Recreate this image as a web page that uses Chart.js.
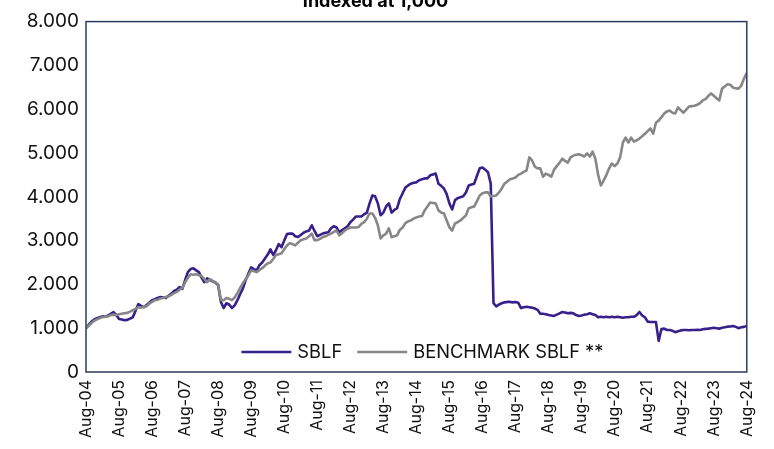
<!DOCTYPE html>
<html>
<head>
<meta charset="utf-8">
<script src="https://cdn.jsdelivr.net/npm/chart.js@4.4.1/dist/chart.umd.min.js"></script>
<style>
  html, body { margin: 0; padding: 0; background: #fff; overflow: hidden; }
  #wrap { position: absolute; left: 0; top: -10px; width: 774px; height: 459px; }
</style>
</head>
<body>
<div id="wrap"><canvas id="sblf-chart"></canvas></div>
<script>
// tick labels on the x axis, one per year (every 12 months)
var yearLabels = ['Aug-04', 'Aug-05', 'Aug-06', 'Aug-07', 'Aug-08', 'Aug-09', 'Aug-10',
    'Aug-11', 'Aug-12', 'Aug-13', 'Aug-14', 'Aug-15', 'Aug-16', 'Aug-17', 'Aug-18',
    'Aug-19', 'Aug-20', 'Aug-21', 'Aug-22', 'Aug-23', 'Aug-24'];

// monthly index values, Aug-04 .. Aug-24 (one row per year Aug..Jul)
var sblf = [
    1000, 1080, 1150, 1200, 1230, 1250, 1270, 1260, 1290, 1330, 1370, 1300,
    1210, 1200, 1180, 1190, 1220, 1250, 1400, 1550, 1510, 1480, 1530, 1580,
    1640, 1660, 1690, 1710, 1700, 1690, 1740, 1790, 1850, 1880, 1940, 1900,
    2100, 2280, 2350, 2370, 2320, 2280, 2150, 2050, 2140, 2100, 2070, 2040,
    1980, 1600, 1460, 1570, 1540, 1460, 1520, 1640, 1780, 1910, 2100, 2250,
    2390, 2350, 2320, 2440, 2500, 2590, 2680, 2800, 2670, 2780, 2920, 2850,
    3000, 3150, 3160, 3160, 3100, 3080, 3130, 3180, 3210, 3230, 3350, 3220,
    3100, 3130, 3160, 3180, 3190, 3280, 3330, 3300, 3190, 3240, 3280, 3330,
    3420, 3480, 3550, 3550, 3550, 3600, 3640, 3850, 4030, 4010, 3850, 3580,
    3640, 3780, 3850, 3640, 3700, 3740, 3950, 4080, 4210, 4260, 4300, 4320,
    4330, 4380, 4400, 4420, 4420, 4490, 4510, 4530, 4300, 4250, 4190, 4060,
    3850, 3710, 3920, 3970, 3990, 4010, 4100, 4260, 4280, 4300, 4480, 4650,
    4670, 4620, 4560, 4300, 1570, 1500, 1540, 1570, 1590, 1600, 1600, 1590,
    1600, 1580, 1460, 1480, 1490, 1480, 1470, 1450, 1420, 1330, 1330, 1320,
    1300, 1290, 1280, 1310, 1340, 1370, 1360, 1340, 1350, 1340, 1300, 1280,
    1290, 1310, 1320, 1340, 1320, 1300, 1250, 1260, 1250, 1260, 1250, 1260,
    1250, 1260, 1250, 1240, 1250, 1250, 1260, 1260, 1300, 1370, 1290, 1250,
    1150, 1140, 1140, 1140, 710, 980, 990, 960, 960, 940, 910, 930,
    950, 960, 960, 955, 960, 960, 965, 960, 975, 985, 990, 1000,
    1010, 1000, 990, 1010, 1020, 1035, 1040, 1050, 1030, 1000, 1020, 1030,
    1050
];

var benchmark = [
    1000, 1060, 1120, 1170, 1200, 1230, 1250, 1260, 1270, 1300, 1310, 1300,
    1320, 1330, 1340, 1350, 1380, 1410, 1440, 1480, 1470, 1490, 1500, 1560,
    1600, 1640, 1650, 1680, 1690, 1710, 1730, 1760, 1800, 1830, 1880, 1920,
    2050, 2150, 2230, 2220, 2230, 2210, 2190, 2120, 2050, 2120, 2080, 2050,
    2000, 1640, 1640, 1690, 1670, 1640, 1700, 1800, 1920, 2030, 2120, 2210,
    2320, 2300, 2280, 2330, 2370, 2430, 2480, 2500, 2580, 2670, 2690, 2710,
    2800, 2890, 2940, 2920, 2890, 2950, 3010, 3030, 3050, 3100, 3160, 3010,
    3010, 3040, 3080, 3100, 3130, 3160, 3200, 3230, 3120, 3170, 3230, 3270,
    3300, 3300, 3300, 3310, 3380, 3420, 3500, 3620, 3620, 3520, 3350, 3050,
    3120, 3160, 3280, 3080, 3100, 3120, 3250, 3300, 3400, 3440, 3460, 3500,
    3530, 3550, 3560, 3690, 3780, 3870, 3860, 3850, 3690, 3640, 3620, 3460,
    3300, 3230, 3390, 3420, 3460, 3520, 3580, 3740, 3760, 3780, 3900, 4030,
    4080, 4100, 4100, 4010, 4020, 4030, 4100, 4190, 4300, 4350, 4400, 4420,
    4440, 4500, 4530, 4570, 4600, 4900, 4830, 4690, 4650, 4650, 4460, 4530,
    4500, 4460, 4620, 4700, 4780, 4870, 4820, 4780, 4900, 4940, 4960, 4970,
    4950, 4920, 4990, 4920, 5030, 4870, 4500, 4260, 4370, 4500, 4650, 4760,
    4700, 4760, 4900, 5240, 5350, 5240, 5350, 5260, 5290, 5330, 5380, 5440,
    5500, 5560, 5440, 5690, 5740, 5820, 5900, 5950, 5970, 5920, 5900, 6040,
    5980, 5920, 5990, 6060, 6070, 6080, 6100, 6140, 6200, 6230, 6300, 6360,
    6310, 6250, 6200, 6470, 6520, 6570, 6560, 6490, 6480, 6470, 6540, 6700,
    6830
];

var seriesNames = ['SBLF', 'BENCHMARK SBLF **'];
var seriesColors = ['#37208a', '#878787'];

function toPoints(arr) {
    var pts = [];
    for (var i = 0; i < arr.length; i++) {
        pts.push({ x: i, y: arr[i] });
    }
    return pts;
}

// frame around the plot area
var frame = {
    id: 'frame',
    afterDatasetsDraw: function (chart) {
        var a = chart.chartArea, c = chart.ctx;
        c.save();
        c.strokeStyle = '#2b3a5e';
        c.lineWidth = 1.5;
        c.strokeRect(a.left, a.top, a.right - a.left, a.bottom - a.top);
        c.restore();
    }
};

// legend sitting inside the plot, bottom centre
var innerLegend = {
    id: 'innerLegend',
    afterDraw: function (chart) {
        var a = chart.chartArea, c = chart.ctx;
        var boxW = 50, gap = 6, spacing = 15;
        c.save();
        c.font = '18.3px Inter';
        c.textBaseline = 'middle';
        var ds = chart.data.datasets;
        var total = 0;
        for (var i = 0; i < ds.length; i++) {
            total += boxW + gap + c.measureText(ds[i].label).width;
            if (i > 0) total += spacing;
        }
        var x = (a.left + a.right) / 2 - total / 2 + 6;
        var y = a.bottom - 20;
        for (var j = 0; j < ds.length; j++) {
            c.strokeStyle = ds[j].borderColor;
            c.lineWidth = 2.5;
            c.beginPath();
            c.moveTo(x, y);
            c.lineTo(x + boxW, y);
            c.stroke();
            x += boxW + gap;
            c.fillStyle = '#111';
            c.fillText(ds[j].label, x, y + 1);
            x += c.measureText(ds[j].label).width + spacing;
        }
        c.restore();
    }
};

var ctx = document.getElementById('sblf-chart');

var myChart = new Chart(ctx, {
    type: 'line',
    data: {
        datasets: [
            {
                label: seriesNames[0],
                borderColor: seriesColors[0],
                backgroundColor: seriesColors[0],
                data: toPoints(sblf),
                order: 1
            }, {
                label: seriesNames[1],
                borderColor: seriesColors[1],
                backgroundColor: seriesColors[1],
                data: toPoints(benchmark),
                order: 0
            }
        ]
    },
    options: {
        responsive: true,
        maintainAspectRatio: false,
        animation: false,
        layout: { padding: { left: 0, right: 23, top: 0, bottom: 0 } },
        elements: {
            point: { radius: 0 },
            line: { borderWidth: 2.6, tension: 0, borderJoinStyle: 'round' }
        },
        plugins: {
            legend: { display: false },
            tooltip: { enabled: false },
            title: {
                display: true,
                text: 'Indexed at 1,000',
                color: '#000',
                font: { family: 'Inter', size: 18, weight: 'bold' },
                padding: { top: 1, bottom: 9 }
            }
        },
        scales: {
            x: {
                type: 'linear',
                min: 0,
                max: 240,
                grid: { display: false, drawTicks: false },
                border: { display: false },
                ticks: {
                    stepSize: 12,
                    autoSkip: false,
                    maxRotation: 90,
                    minRotation: 90,
                    padding: 8,
                    color: '#111',
                    font: { family: 'Inter', size: 16 },
                    callback: function (v) {
                        return yearLabels[v / 12];
                    }
                },
                afterFit: function (scale) { scale.height = 77; }
            },
            y: {
                min: 0,
                max: 8000,
                grid: { display: false, drawTicks: false },
                border: { display: false },
                ticks: {
                    stepSize: 1000,
                    padding: 7,
                    color: '#111',
                    font: { family: 'Inter', size: 19 },
                    callback: function (v) {
                        return v === 0 ? '0' : (v / 1000).toFixed(3);
                    }
                },
                afterFit: function (scale) { scale.width = 86; }
            }
        }
    },
    plugins: [frame, innerLegend]
});
</script>
</body>
</html>
